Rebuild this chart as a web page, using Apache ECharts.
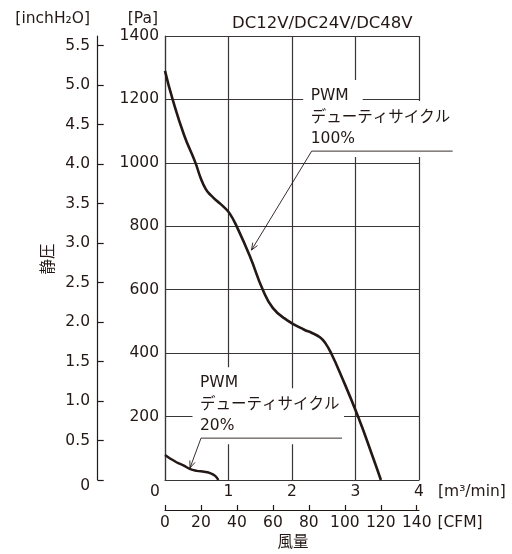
<!DOCTYPE html>
<html>
<head>
<meta charset="utf-8">
<script src="https://cdn.jsdelivr.net/npm/echarts@6/dist/echarts.min.js"></script>
<style>
  html, body { margin: 0; padding: 0; background: #fff; }
  #chart { width: 512px; height: 554px; }
</style>
</head>
<body>
<div id="chart"></div>
<script>
// Static pressure vs. airflow, PWM duty cycle 100% and 20%
const flowDuty100 = [0, 0.12, 0.30, 0.48, 0.56, 0.64, 0.72, 0.82, 0.92, 1.02, 1.14, 1.34, 1.54, 1.70, 1.92, 2.20, 2.30, 2.44, 2.53, 2.62, 2.76, 3.04, 3.27, 3.40];
const pressureDuty100 = [1290, 1200, 1088, 1000, 953, 918, 898, 880, 862, 840, 795, 704, 600, 542, 504, 473, 465, 450, 430, 398, 336, 200, 74, 0];

const flowDuty20 = [0, 0.08, 0.18, 0.29, 0.39, 0.50, 0.62, 0.72, 0.79, 0.84];
const pressureDuty20 = [79, 68, 56, 46, 35, 29, 26, 21, 13, 0];

// Tick values of the secondary scales
const inchTicks = [0, 0.5, 1.0, 1.5, 2.0, 2.5, 3.0, 3.5, 4.0, 4.5, 5.0, 5.5];
const cfmTicks = [0, 20, 40, 60, 80, 100, 120, 140];

const PA_PER_INCH_H2O = 249.089;
const CFM_PER_M3_MIN = 35.3147;

const TEXT = '#231815';
const FONT = "'DejaVu Sans', 'Noto Sans CJK JP', sans-serif";
const FS = 15.5;
const GRID_LINE = { color: '#3a3536', width: 1.2 };
const labelStyle = { color: TEXT, fontFamily: FONT, fontSize: FS };

const zip = (xs, ys) => xs.map((x, i) => [x, ys[i]]);

const chart = echarts.init(document.getElementById('chart'), null, { renderer: 'canvas' });

chart.setOption({
  animation: false,
  backgroundColor: '#fff',
  title: {
    text: 'DC12V/DC24V/DC48V',
    left: 232, top: 15, padding: 0,
    textStyle: { color: TEXT, fontFamily: FONT, fontSize: 16.5, fontWeight: 'normal' }
  },
  grid: { left: 165, top: 36, right: 93, bottom: 74, containLabel: false, outerBoundsMode: 'none' },
  xAxis: [
    {
      type: 'value', min: 0, max: 4, interval: 1, position: 'bottom',
      axisLine: { show: true, onZero: false, lineStyle: GRID_LINE },
      axisTick: { show: false },
      splitLine: { show: true, lineStyle: GRID_LINE },
      axisLabel: Object.assign({}, labelStyle, {
        margin: 4,
        formatter: v => (v === 0 ? '{o|0}' : String(v)),
        rich: { o: Object.assign({}, labelStyle, { padding: [0, 20, 0, 0] }) }
      }),
      name: '[m³/min]', nameLocation: 'end', nameGap: 19,
      nameTextStyle: Object.assign({}, labelStyle, { verticalAlign: 'top', align: 'left', padding: [4, 0, 0, 0] })
    },
    {
      type: 'value', min: 0, max: 4 * CFM_PER_M3_MIN, position: 'bottom', offset: 30,
      axisLine: { show: true, onZero: false, lineStyle: { color: TEXT, width: 1.2 } },
      axisTick: { show: true, inside: true, length: 5, customValues: cfmTicks, lineStyle: { color: TEXT, width: 1.2 } },
      splitLine: { show: false },
      axisLabel: Object.assign({}, labelStyle, { margin: 5, customValues: cfmTicks }),
      name: '[CFM]', nameLocation: 'end', nameGap: 18,
      nameTextStyle: Object.assign({}, labelStyle, { verticalAlign: 'top', align: 'left', padding: [5, 0, 0, 0] })
    }
  ],
  yAxis: [
    {
      type: 'value', min: 0, max: 1400, interval: 200, position: 'left',
      axisLine: { show: true, onZero: false, lineStyle: GRID_LINE },
      axisTick: { show: false },
      splitLine: { show: true, lineStyle: GRID_LINE },
      axisLabel: Object.assign({}, labelStyle, { margin: 6, formatter: v => (v === 0 ? '' : String(v)) }),
      name: '[Pa]', nameLocation: 'end', nameGap: 17,
      nameTextStyle: Object.assign({}, labelStyle, { align: 'right', verticalAlign: 'middle', padding: [0, 7, 0, 0] })
    },
    {
      type: 'value', min: 0, max: 1400 / PA_PER_INCH_H2O, position: 'left', offset: 67.3,
      axisLine: { show: true, onZero: false, lineStyle: { color: TEXT, width: 1.2 } },
      axisTick: { show: true, inside: true, length: 6, customValues: inchTicks, lineStyle: { color: TEXT, width: 1.2 } },
      splitLine: { show: false },
      axisLabel: Object.assign({}, labelStyle, {
        margin: 7.7, customValues: inchTicks,
        formatter: v => (v === 0 ? '{z|0}' : v.toFixed(1)),
        rich: { z: Object.assign({}, labelStyle, { padding: [12, 0, 0, 0] }) }
      }),
      name: '[inchH₂O]', nameLocation: 'end', nameGap: 17,
      nameTextStyle: Object.assign({}, labelStyle, { align: 'right', verticalAlign: 'middle', padding: [0, 7.7, 0, 0] })
    }
  ],
  series: [
    {
      name: 'PWM 100%', type: 'line', xAxisIndex: 0, yAxisIndex: 0,
      data: zip(flowDuty100, pressureDuty100),
      smooth: 0.5, showSymbol: false, z: 3,
      lineStyle: { color: TEXT, width: 2.6 }
    },
    {
      name: 'PWM 20%', type: 'line', xAxisIndex: 0, yAxisIndex: 0,
      data: zip(flowDuty20, pressureDuty20),
      smooth: 0.5, showSymbol: false, z: 3,
      lineStyle: { color: TEXT, width: 2.4 }
    }
  ]
});

// Callout anchors in data units [m³/min, Pa]: elbow of the leader and arrow tip
const callouts = [
  { lines: ['PWM', 'デューティサイクル', '100%'], elbow: [2.31, 1037], tip: [1.362, 725] },
  { lines: ['PWM', 'デューティサイクル', '20%'], elbow: [0.567, 132], tip: [0.394, 38] }
];

const toPx = p => chart.convertToPixel({ xAxisIndex: 0, yAxisIndex: 0 }, p);
const graphics = [];

callouts.forEach(c => {
  const [cx, cy] = toPx(c.elbow);
  const [tx, ty] = toPx(c.tip);
  // white backing behind the label text, breaking the grid lines
  graphics.push({ type: 'rect', z: 1, silent: true,
    shape: { x: cx - 8.5, y: cy - 71, width: 59.5, height: 22 }, style: { fill: '#fff' } });
  graphics.push({ type: 'rect', z: 1, silent: true,
    shape: { x: cx - 8.5, y: cy - 50, width: 151.5, height: 56 }, style: { fill: '#fff' } });
  const offs = [-55, -33.5, -12.5];
  c.lines.forEach((t, i) => {
    graphics.push({ type: 'text', z: 5, silent: true, x: cx - 1, y: cy + offs[i],
      style: { text: t, fill: TEXT, fontFamily: FONT, fontSize: FS, align: 'left', verticalAlign: 'middle' } });
  });
  // leader line with arrowhead
  graphics.push({ type: 'polyline', z: 5, silent: true,
    shape: { points: [[cx + 141, cy], [cx, cy], [tx, ty]] },
    style: { stroke: TEXT, lineWidth: 0.9, fill: null } });
  const dx = tx - cx, dy = ty - cy, len = Math.hypot(dx, dy);
  const ux = dx / len, uy = dy / len, a = 0.38, L = 7.5;
  const rot = (s) => [tx - L * (ux * Math.cos(s) - uy * Math.sin(s)), ty - L * (ux * Math.sin(s) + uy * Math.cos(s))];
  graphics.push({ type: 'polyline', z: 5, silent: true,
    shape: { points: [rot(a), [tx, ty], rot(-a)] },
    style: { stroke: TEXT, lineWidth: 0.9, fill: null } });
});

// axis captions
graphics.push({ type: 'text', z: 5, silent: true, x: 49, y: 259, rotation: Math.PI / 2,
  style: { text: '静圧', fill: TEXT, fontFamily: FONT, fontSize: FS, align: 'center', verticalAlign: 'middle' } });
graphics.push({ type: 'text', z: 5, silent: true, x: 293, y: 543,
  style: { text: '風量', fill: TEXT, fontFamily: FONT, fontSize: FS, align: 'center', verticalAlign: 'middle' } });

chart.setOption({ graphic: graphics });
</script>
</body>
</html>
